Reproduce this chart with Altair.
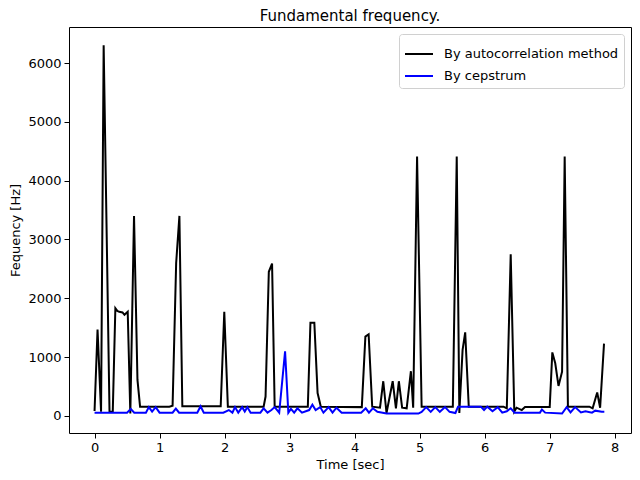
import pandas as pd
import altair as alt

# autocorrelation estimate: vertices (time in s, frequency in Hz)
auto_t = [0.0, 0.046, 0.10, 0.14, 0.23, 0.28, 0.32, 0.35, 0.38, 0.43, 0.46, 0.51, 0.55,
          0.607, 0.66, 0.70, 1.15, 1.20, 1.255, 1.305, 1.35, 1.94, 1.995, 2.05, 2.60,
          2.63, 2.68, 2.73, 2.77, 3.28, 3.32, 3.38, 3.43, 3.48, 4.11, 4.165, 4.215,
          4.27, 4.39, 4.44, 4.49, 4.585, 4.635, 4.68, 4.73, 4.80, 4.865, 4.90, 4.96,
          5.03, 5.51, 5.57, 5.61, 5.66, 5.70, 5.755, 6.29, 6.34, 6.40, 6.455, 6.49,
          6.57, 6.62, 7.00, 7.04, 7.085, 7.135, 7.19, 7.23, 7.28, 7.61, 7.66, 7.73,
          7.775, 7.835]
auto_f = [85, 1470, 70, 6300, 70, 70, 1830, 1785, 1770, 1760, 1720, 1770, 40,
          3400, 612, 158, 158, 175, 2600, 3400, 165, 165, 1770, 158, 158,
          330, 2450, 2590, 158, 158, 1586, 1586, 390, 158, 150, 1348, 1388,
          158, 140, 590, 50, 590, 130, 590, 140, 130, 760, 140, 4410,
          158, 158, 4410, 50, 1122, 1420, 158, 158, 130, 2750, 75, 140,
          100, 150, 150, 1080, 895, 510, 753, 4410, 158, 158, 130, 400,
          140, 1230]

# cepstrum estimate
cep_t = [0.0, 0.50, 0.557, 0.61, 0.79, 0.835, 0.885, 0.94, 1.0, 1.20, 1.25, 1.30,
         1.58, 1.63, 1.68, 1.98, 2.065, 2.12, 2.16, 2.21, 2.27, 2.31, 2.35, 2.40,
         2.55, 2.60, 2.66, 2.72, 2.77, 2.84, 2.93, 2.98, 3.02, 3.07, 3.12, 3.19,
         3.30, 3.35, 3.40, 3.47, 3.52, 3.60, 3.66, 3.72, 3.80, 4.10, 4.17, 4.22,
         4.28, 4.35, 4.49, 4.98, 5.03, 5.10, 5.17, 5.24, 5.31, 5.39, 5.46, 5.55,
         5.59, 5.94, 5.99, 6.04, 6.12, 6.20, 6.27, 6.34, 6.40, 6.46, 6.85, 6.88,
         6.93, 7.19, 7.26, 7.32, 7.39, 7.48, 7.55, 7.65, 7.70, 7.80, 7.84]
cep_f = [56, 56, 120, 56, 56, 150, 75, 150, 56, 56, 125, 56,
         56, 165, 56, 56, 100, 56, 150, 56, 150, 75, 150, 56,
         56, 130, 56, 100, 150, 56, 1100, 56, 120, 56, 130, 56,
         100, 190, 100, 150, 56, 150, 56, 140, 56, 56, 130, 56,
         130, 70, 40, 40, 70, 150, 70, 150, 70, 150, 70, 50,
         158, 158, 100, 158, 80, 150, 56, 80, 130, 56, 56, 110,
         56, 40, 150, 60, 150, 60, 80, 56, 90, 70, 70]

labels = ["By autocorrelation method", "By cepstrum"]

df = pd.concat([
    pd.DataFrame({"t": auto_t, "f": auto_f, "series": labels[0]}),
    pd.DataFrame({"t": cep_t, "f": cep_f, "series": labels[1]}),
])

font = "DejaVu Sans"

chart = alt.Chart(df).mark_line(strokeWidth=2).encode(
    x=alt.X("t:Q", title="Time [sec]",
            scale=alt.Scale(domain=[-0.393, 8.25], nice=False, zero=False),
            axis=alt.Axis(values=list(range(0, 9)), format="d")),
    y=alt.Y("f:Q", title="Fequency [Hz]",
            scale=alt.Scale(domain=[-290, 6612], nice=False, zero=False),
            axis=alt.Axis(values=list(range(0, 7000, 1000)), format="d")),
    color=alt.Color("series:N", sort=labels,
                    scale=alt.Scale(domain=labels, range=["black", "blue"]),
                    legend=alt.Legend(title=None, orient="top-right", offset=7)),
    order=alt.Order("t:Q"),
).properties(
    width=562,
    height=406,
    title=alt.TitleParams("Fundamental frequency.", font=font, fontSize=15,
                          fontWeight="normal", color="black", offset=3),
    autosize=alt.AutoSizeParams(type="none"),
    padding={"left": 61, "top": 19, "right": 1, "bottom": 39},
).configure_axis(
    grid=False,
    domain=False,
    tickColor="black",
    tickSize=5,
    tickWidth=1,
    labelColor="black",
    labelFont=font,
    labelFontSize=13,
    labelPadding=3,
    titleFont=font,
    titleFontSize=13,
    titleFontWeight="normal",
    titleColor="black",
).configure_axisY(
    titlePadding=5,
).configure_axisX(
    titlePadding=4,
).configure_view(
    stroke="black",
    strokeWidth=1,
).configure_legend(
    labelFont=font,
    labelFontSize=13,
    labelColor="black",
    labelLimit=0,
    symbolType="stroke",
    symbolSize=784,
    symbolStrokeWidth=2,
    strokeColor="#d0d0d0",
    fillColor="white",
    cornerRadius=3,
    padding=5,
    rowPadding=0,
    labelOffset=10,
)

chart.save("out.html", embed_options={"renderer": "svg", "actions": False})
